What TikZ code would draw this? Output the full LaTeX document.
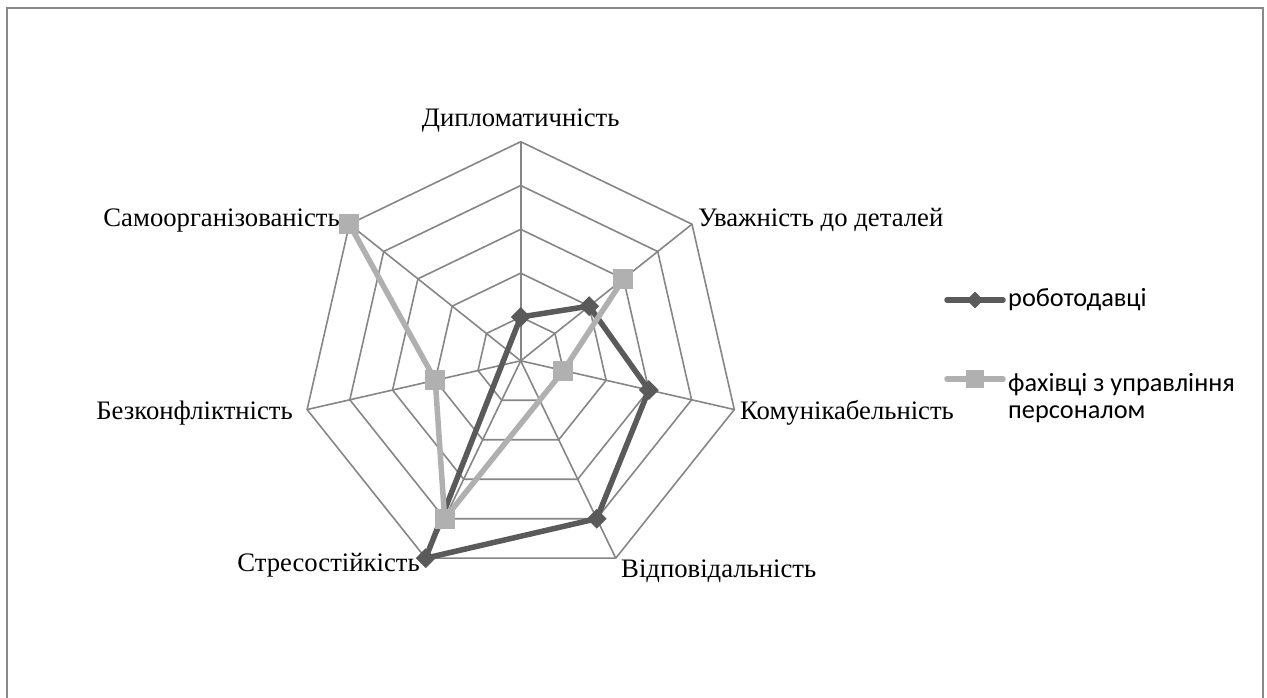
\documentclass[tikz,border=0pt]{standalone}
\usepackage{fontspec}
\setmainfont{Liberation Serif}
\newfontfamily\legfont{Carlito}
\usetikzlibrary{calc,shapes.geometric}
\definecolor{gridgray}{HTML}{868686}
\definecolor{framegray}{HTML}{8A8A8A}
\definecolor{serdark}{HTML}{5A5A5A}
\definecolor{serlight}{HTML}{B0B0B0}
\begin{document}
\begin{tikzpicture}[x=1pt,y=1pt,
  gridline/.style={draw=gridgray, line width=1.6pt},
  frameline/.style={draw=framegray, line width=2.2pt},
  darkline/.style={draw=serdark, line width=5.5pt, line join=round},
  lightline/.style={draw=serlight, line width=5.5pt, line join=round},
  darkmark/.style={diamond, fill=serdark, inner sep=0pt, minimum width=20pt, minimum height=20pt},
  lightmark/.style={rectangle, fill=serlight, inner sep=0pt, minimum size=20pt},
  axislabel/.style={inner sep=0pt, font=\fontsize{26.7}{31}\selectfont},
  legendlabel/.style={inner sep=0pt, font=\legfont\fontsize{26.3}{26.6}\selectfont, align=left}]
\useasboundingbox (0,0) rectangle (1267,698);
\fill[white] (0,0) rectangle (1267,698);
% chart frame (its lower edge lies below the page)
\draw[frameline] (7,-5) -- (7,690) -- (1263,690) -- (1263,-5);

% radar grid: 5 rings, 7 spokes
\coordinate (C) at (520.7,337.2);
\def\rstep{43.82}
\foreach \k in {1,...,5}{
  \draw[gridline] ($(C)+(90:\k*\rstep)$)
    \foreach \i in {1,...,6}{ -- ($(C)+({90-\i*360/7}:\k*\rstep)$) } -- cycle;
}
\foreach \i in {0,...,6}{
  \draw[gridline] (C) -- ($(C)+({90-\i*360/7}:5*\rstep)$);
}

% axis labels
\node[axislabel, anchor=base] (lDip) at (520.7,571.3) {Дипломатичність};
\node[axislabel, anchor=base west] (lUva) at (698,471.3) {Уважність до деталей};
\node[axislabel, anchor=base west] (lKom) at (740,278) {Комунікабельність};
\node[axislabel, anchor=base west] (lVid) at (621,120.5) {Відповідальність};
\node[axislabel, anchor=base east] (lStr) at (420,126.3) {Стресостійкість};
\node[axislabel, anchor=base east] (lBez) at (293,278) {Безконфліктність};
\node[axislabel, anchor=base east] (lSam) at (340,471.3) {Самоорганізованість};

% series points: employers
\coordinate (e1) at ($(C)+(90:1*\rstep)$);
\coordinate (e2) at ($(C)+({90-1*360/7}:2*\rstep)$);
\coordinate (e3) at ($(C)+({90-2*360/7}:3*\rstep)$);
\coordinate (e4) at ($(C)+({90-3*360/7}:4*\rstep)$);
\coordinate (e5) at ($(C)+({90-4*360/7}:5*\rstep)$);
% series points: HR specialists
\coordinate (h2) at ($(C)+({90-1*360/7}:3*\rstep)$);
\coordinate (h3) at ($(C)+({90-2*360/7}:1*\rstep)$);
\coordinate (h5) at ($(C)+({90-4*360/7}:4*\rstep)$);
\coordinate (h6) at ($(C)+({90-5*360/7}:2*\rstep)$);
\coordinate (h7) at ($(C)+({90-6*360/7}:5*\rstep)$);

% series lines
\draw[darkline] (e1) -- (e2) -- (e3) -- (e4) -- (e5) -- cycle;
\foreach \p in {e1,e2,e3,e4,e5}{ \node[darkmark] (m\p) at (\p) {}; }
\draw[lightline] (h2) -- (h3) -- (h5) -- (h6) -- (h7);
\foreach \p in {h2,h3,h5,h6,h7}{ \node[lightmark] (m\p) at (\p) {}; }

% legend
\coordinate (ld0) at (947,398);
\coordinate (ld1) at (1003,398);
\draw[draw=serdark, line width=5.5pt, line cap=round] (ld0) -- (ld1);
\node[darkmark, minimum width=17pt, minimum height=17pt] (ldm) at ($(ld0)!0.5!(ld1)$) {};
\node[legendlabel, anchor=base west] (leg1) at (1008,391.3) {роботодавці};
\coordinate (ll0) at (947,319);
\coordinate (ll1) at (1003,319);
\draw[draw=serlight, line width=5.5pt, line cap=round] (ll0) -- (ll1);
\node[lightmark, minimum size=18pt] (llm) at ($(ll0)!0.5!(ll1)$) {};
\node[legendlabel, anchor=base west] (leg2) at (1008,306.3) {фахівці з управління};
\node[legendlabel, anchor=base west] (leg3) at (1008,279.7) {персоналом};
\end{tikzpicture}
\end{document}
